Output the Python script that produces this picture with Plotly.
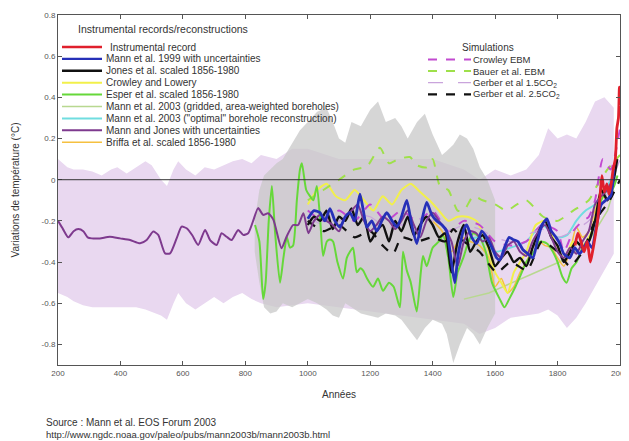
import plotly.graph_objects as go

# ---------------- data ----------------
x_ticks = [200, 400, 600, 800, 1000, 1200, 1400, 1600, 1800, 2000]
y_ticks = [-0.8, -0.6, -0.4, -0.2, 0, 0.2, 0.4, 0.6, 0.8]
y_tick_labels = ["-0.8", "-0.6", "-0.4", "-0.2", "0", "0.2", "0.4", "0.6", "0.8"]

# Mann and Jones uncertainty band (light purple)
mj_band_years = [200, 215, 230, 250, 280, 310, 340, 370, 390, 420, 450, 480, 500, 530, 549, 570, 585,
                 610, 640, 670, 700, 730, 760, 790, 820, 850, 900, 950, 1000, 1100, 1200, 1300, 1400,
                 1500, 1550, 1600, 1650, 1700, 1740, 1770, 1800, 1830, 1860, 1890, 1920, 1950, 1980]
mj_band_upper = [0.10, 0.08, 0.06, 0.05, 0.05, 0.04, 0.02, 0.05, 0.06, 0.03, 0.06, 0.09, 0.07, 0.00, -0.03, 0.05, 0.09,
                 0.05, 0.02, 0.06, 0.05, 0.07, 0.09, 0.10, 0.08, 0.12, 0.10, 0.15, 0.15, 0.10, 0.10, 0.10, 0.10,
                 0.05, 0.00, 0.05, 0.02, 0.05, 0.12, 0.25, 0.20, 0.22, 0.20, 0.28, 0.38, 0.40, 0.35]
mj_band_lower = [-0.55, -0.56, -0.57, -0.59, -0.61, -0.62, -0.62, -0.62, -0.62, -0.62, -0.62, -0.63, -0.64, -0.66, -0.68, -0.60, -0.55,
                 -0.60, -0.63, -0.60, -0.57, -0.60, -0.57, -0.55, -0.58, -0.60, -0.62, -0.61, -0.60, -0.62, -0.64, -0.66, -0.68,
                 -0.70, -0.75, -0.72, -0.67, -0.66, -0.65, -0.63, -0.66, -0.72, -0.67, -0.60, -0.52, -0.44, -0.36]

# Grey uncertainty band
grey_band_years = [830, 845, 860, 880, 900, 920, 950, 975, 1000, 1030, 1060, 1080, 1100, 1120, 1140, 1170,
                   1200, 1225, 1250, 1280, 1300, 1320, 1350, 1375, 1400, 1430, 1445, 1466, 1487, 1510, 1530,
                   1551, 1575, 1600]
grey_band_upper = [-0.20, -0.05, 0.02, 0.05, 0.08, 0.10, 0.18, 0.24, 0.28, 0.33, 0.35, 0.28, 0.20, 0.18, 0.28, 0.26,
                   0.34, 0.38, 0.28, 0.30, 0.26, 0.20, 0.28, 0.32, 0.22, 0.12, 0.14, 0.17, 0.22, 0.20, 0.15,
                   0.06, 0.00, -0.10]
grey_band_lower = [-0.35, -0.50, -0.62, -0.65, -0.64, -0.60, -0.62, -0.60, -0.58, -0.60, -0.63, -0.66, -0.67, -0.60, -0.62, -0.65,
                   -0.66, -0.67, -0.65, -0.66, -0.68, -0.72, -0.78, -0.72, -0.68, -0.70, -0.75, -0.89, -0.80, -0.72, -0.75,
                   -0.80, -0.72, -0.65]

# Instrumental record
instr_years = [1856, 1865, 1875, 1885, 1895, 1905, 1912, 1920, 1928, 1935, 1942, 1950, 1958, 1965, 1972, 1978, 1985, 1990, 1995, 1998, 2000]
instr_vals = [-0.32, -0.26, -0.30, -0.35, -0.30, -0.40, -0.35, -0.28, -0.20, -0.10, 0.02, -0.06, -0.02, -0.07, -0.02, 0.05, 0.10, 0.25, 0.30, 0.45, 0.36]

# Mann et al. 1999
mann99_years = [1000, 1020, 1039, 1055, 1071, 1087, 1103, 1120, 1135, 1150, 1167, 1178, 1189, 1205, 1221, 1237, 1253, 1270,
                1285, 1300, 1317, 1333, 1349, 1365, 1381, 1397, 1413, 1430, 1445, 1460, 1471, 1480, 1487, 1500, 1509, 1525,
                1541, 1557, 1573, 1590, 1605, 1615, 1630, 1645, 1657, 1673, 1689, 1705, 1721, 1735, 1750, 1766, 1780, 1795,
                1807, 1820, 1839, 1855, 1870, 1881, 1895, 1910, 1925, 1940, 1955, 1970, 1980]
mann99_vals = [-0.19, -0.15, -0.16, -0.20, -0.14, -0.20, -0.23, -0.18, -0.16, -0.20, -0.07, -0.15, -0.23, -0.20, -0.25, -0.20, -0.16, -0.20,
               -0.23, -0.18, -0.10, -0.22, -0.31, -0.20, -0.11, -0.17, -0.20, -0.22, -0.25, -0.40, -0.50, -0.38, -0.32, -0.24, -0.22, -0.28,
               -0.31, -0.25, -0.28, -0.33, -0.38, -0.39, -0.33, -0.28, -0.29, -0.30, -0.34, -0.36, -0.38, -0.30, -0.22, -0.19, -0.25, -0.28,
               -0.31, -0.36, -0.38, -0.33, -0.36, -0.34, -0.30, -0.33, -0.22, -0.12, -0.10, -0.08, 0.05]

# Jones et al. scaled 1856-1980
jones_years = [1000, 1020, 1040, 1060, 1080, 1100, 1120, 1140, 1160, 1180, 1200, 1220, 1240, 1260, 1280, 1300, 1320, 1340,
               1360, 1380, 1400, 1420, 1440, 1460, 1480, 1500, 1520, 1540, 1560, 1580, 1600, 1620, 1640, 1660, 1680, 1700,
               1720, 1740, 1760, 1780, 1800, 1820, 1840, 1860, 1880, 1900, 1920, 1940, 1960, 1980, 1991]
jones_vals = [-0.22, -0.18, -0.20, -0.15, -0.24, -0.18, -0.20, -0.14, -0.22, -0.18, -0.30, -0.25, -0.22, -0.30, -0.20, -0.25, -0.18, -0.27,
              -0.22, -0.18, -0.22, -0.28, -0.26, -0.45, -0.30, -0.22, -0.35, -0.30, -0.27, -0.33, -0.42, -0.38, -0.35, -0.40, -0.38, -0.42,
              -0.33, -0.25, -0.20, -0.28, -0.32, -0.40, -0.35, -0.30, -0.33, -0.30, -0.20, -0.05, -0.10, 0.00, 0.10]

# Crowley and Lowery
crowley_years = [1000, 1030, 1060, 1090, 1120, 1150, 1180, 1210, 1240, 1270, 1300, 1330, 1360, 1390, 1420, 1450, 1480, 1510,
                 1540, 1570, 1600, 1620, 1640, 1660, 1680, 1700, 1730, 1760, 1790, 1820, 1850, 1880, 1910, 1940, 1965, 1990]
crowley_vals = [-0.12, -0.05, -0.02, -0.08, -0.10, -0.05, -0.10, -0.15, -0.08, -0.12, -0.05, -0.02, -0.06, -0.10, -0.15, -0.20, -0.18, -0.18,
                -0.20, -0.30, -0.45, -0.50, -0.55, -0.45, -0.40, -0.35, -0.22, -0.20, -0.30, -0.38, -0.30, -0.32, -0.25, -0.05, -0.05, 0.10]

# Esper et al. scaled 1856-1980
esper_years = [831, 845, 857, 865, 875, 885, 895, 911, 922, 933, 943, 953, 965, 975, 981, 995, 1007, 1018, 1029, 1040, 1049,
               1061, 1071, 1081, 1095, 1113, 1125, 1135, 1145, 1157, 1168, 1177, 1190, 1209, 1225, 1241, 1260, 1275, 1295,
               1305, 1317, 1330, 1349, 1362, 1369, 1381, 1400, 1420, 1433, 1450, 1466, 1480, 1498, 1515, 1530, 1550, 1570,
               1590, 1615, 1630, 1645, 1665, 1680, 1700, 1720, 1745, 1766, 1785, 1800, 1815, 1829, 1845, 1861, 1880, 1900,
               1920, 1940, 1960, 1975, 1992]
esper_vals = [-0.22, -0.30, -0.58, -0.50, -0.20, -0.03, -0.25, -0.50, -0.38, -0.28, -0.33, -0.32, -0.10, 0.05, 0.08, -0.05, -0.08, -0.10, -0.03, -0.20, -0.37,
              -0.30, -0.29, -0.30, -0.40, -0.48, -0.38, -0.35, -0.33, -0.45, -0.43, -0.44, -0.48, -0.52, -0.48, -0.54, -0.50, -0.52, -0.62,
              -0.35, -0.44, -0.50, -0.64, -0.45, -0.37, -0.42, -0.33, -0.30, -0.27, -0.38, -0.57, -0.45, -0.38, -0.30, -0.26, -0.28, -0.35,
              -0.50, -0.58, -0.62, -0.58, -0.52, -0.47, -0.40, -0.36, -0.30, -0.31, -0.35, -0.40, -0.47, -0.50, -0.43, -0.40, -0.33, -0.30,
              -0.20, -0.10, -0.05, -0.05, 0.02]

# Mann et al. 2003 (gridded, area-weighted boreholes)
bore_grid_years = [1500, 1580, 1700, 1820, 1900, 1960, 1980]
bore_grid_vals = [-0.58, -0.55, -0.47, -0.39, -0.30, -0.15, -0.05]

# Mann et al. 2003 ("optimal" borehole reconstruction)
bore_opt_years = [1500, 1550, 1600, 1650, 1700, 1750, 1800, 1830, 1860, 1890, 1920, 1950, 1980]
bore_opt_vals = [-0.30, -0.28, -0.35, -0.33, -0.30, -0.22, -0.28, -0.27, -0.20, -0.15, -0.12, -0.05, 0.02]

# Mann and Jones
mj_years = [200, 216, 233, 250, 265, 281, 295, 308, 334, 366, 399, 431, 463, 484, 505, 521, 543, 559, 580, 596, 612, 630,
            649, 671, 687, 708, 724, 740, 756, 777, 793, 809, 825, 841, 857, 873, 890, 916, 932, 953, 969, 986, 1002,
            1020, 1040, 1060, 1080, 1100, 1120, 1140, 1160, 1180, 1200, 1220, 1240, 1260, 1280, 1300, 1320, 1340, 1360,
            1380, 1400, 1420, 1440, 1460, 1480, 1500, 1520, 1540, 1560, 1580, 1600, 1620, 1640, 1660, 1680, 1700, 1720,
            1740, 1760, 1780, 1800, 1820, 1840, 1860, 1880, 1900, 1920, 1940, 1960, 1980]
mj_vals = [-0.20, -0.24, -0.28, -0.25, -0.24, -0.25, -0.28, -0.285, -0.285, -0.277, -0.285, -0.293, -0.309, -0.293, -0.252, -0.268, -0.358, -0.358, -0.285, -0.228, -0.236, -0.27,
           -0.317, -0.244, -0.293, -0.317, -0.26, -0.277, -0.293, -0.244, -0.268, -0.26, -0.20, -0.138, -0.171, -0.163, -0.195, -0.333, -0.277, -0.22, -0.22, -0.163, -0.26,
           -0.20, -0.17, -0.20, -0.22, -0.25, -0.18, -0.15, -0.12, -0.20, -0.25, -0.22, -0.18, -0.20, -0.24, -0.20, -0.15, -0.22, -0.28,
           -0.20, -0.16, -0.20, -0.24, -0.30, -0.42, -0.30, -0.25, -0.26, -0.30, -0.28, -0.35, -0.38, -0.32, -0.30, -0.35, -0.37, -0.30,
           -0.25, -0.22, -0.28, -0.35, -0.38, -0.33, -0.36, -0.30, -0.25, -0.12, -0.08, -0.05, 0.02]

# Briffa et al. scaled 1856-1980
briffa_years = [1400, 1430, 1460, 1490, 1520, 1550, 1580, 1600, 1620, 1640, 1660, 1680, 1700, 1720, 1740, 1760, 1780, 1800,
                1820, 1840, 1860, 1880, 1900, 1920, 1940, 1960]
briffa_vals = [-0.20, -0.25, -0.35, -0.28, -0.30, -0.32, -0.38, -0.52, -0.48, -0.55, -0.52, -0.45, -0.40, -0.33, -0.30, -0.32, -0.33, -0.38,
               -0.42, -0.35, -0.23, -0.28, -0.25, -0.15, -0.08, -0.10]

# Simulations
crowley_ebm_years = [1000, 1050, 1100, 1150, 1200, 1250, 1300, 1350, 1400, 1450, 1500, 1550, 1600, 1650, 1700, 1750, 1800,
                     1820, 1850, 1880, 1900, 1920, 1945, 1970, 2000]
crowley_ebm_vals = [-0.15, -0.20, -0.15, -0.20, -0.12, -0.20, -0.15, -0.20, -0.15, -0.25, -0.20, -0.22, -0.30, -0.32, -0.30, -0.22, -0.25,
                    -0.35, -0.25, -0.20, -0.18, -0.10, 0.10, 0.05, 0.25]

bauer_years = [1000, 1050, 1100, 1150, 1190, 1231, 1260, 1290, 1327, 1350, 1381, 1400, 1423, 1450, 1480, 1500, 1530, 1560,
               1600, 1637, 1670, 1700, 1754, 1800, 1850, 1900, 1926, 1960, 2000]
bauer_vals = [-0.10, -0.05, 0.00, 0.05, 0.065, 0.155, 0.08, 0.10, 0.11, 0.07, 0.06, 0.10, -0.03, -0.05, -0.15, -0.15, -0.08, -0.10,
              -0.12, -0.15, -0.12, -0.10, -0.18, -0.20, -0.15, -0.10, -0.03, 0.05, 0.12]

gerber15_years = [1000, 1050, 1100, 1150, 1200, 1250, 1300, 1350, 1400, 1450, 1500, 1550, 1600, 1650, 1700, 1750, 1800, 1850,
                  1900, 1950, 2000]
gerber15_vals = [-0.18, -0.22, -0.20, -0.17, -0.18, -0.23, -0.22, -0.19, -0.20, -0.25, -0.22, -0.24, -0.28, -0.30, -0.27, -0.24, -0.28, -0.25,
                 -0.20, -0.10, 0.10]

gerber25_years = [1000, 1050, 1100, 1150, 1200, 1240, 1273, 1300, 1350, 1400, 1440, 1466, 1500, 1550, 1605, 1650, 1702, 1750,
                  1800, 1839, 1880, 1920, 1967, 2000]
gerber25_vals = [-0.20, -0.25, -0.22, -0.28, -0.25, -0.32, -0.36, -0.28, -0.30, -0.28, -0.30, -0.24, -0.30, -0.35, -0.45, -0.40, -0.44, -0.30,
                 -0.35, -0.42, -0.35, -0.20, -0.10, 0.00]

rec_labels = ["Instrumental record", "Mann et al. 1999 with uncertainties", "Jones et al. scaled 1856-1980",
              "Crowley and Lowery", "Esper et al. scaled 1856-1980",
              "Mann et al. 2003 (gridded, area-weighted boreholes)",
              "Mann et al. 2003 (\"optimal\" borehole reconstruction)",
              "Mann and Jones with uncertainties", "Briffa et al. scaled 1856-1980"]
sim_labels = ["Crowley EBM", "Bauer et al. EBM", "Gerber et al 1.5CO<sub>2</sub>", "Gerber et al. 2.5CO<sub>2</sub>"]

# ---------------- styles ----------------
FONT = "Liberation Sans, Arial, sans-serif"
rec_styles = [
    dict(color="#e0202c", width=2.8, dash="solid"),   # instrumental
    dict(color="#2630b8", width=2.8, dash="solid"),   # Mann 1999
    dict(color="#111111", width=2.4, dash="solid"),   # Jones
    dict(color="#f2f04a", width=2.0, dash="solid"),   # Crowley & Lowery
    dict(color="#66d83a", width=2.0, dash="solid"),   # Esper
    dict(color="#b8d890", width=1.5, dash="solid"),   # Mann 2003 gridded
    dict(color="#70dde0", width=2.0, dash="solid"),   # Mann 2003 optimal
    dict(color="#7e3a8e", width=2.0, dash="solid"),   # Mann and Jones
    dict(color="#f5c040", width=1.5, dash="solid"),   # Briffa
]
sim_styles = [
    dict(color="#c24ad0", width=2.0, dash="dash"),
    dict(color="#9ee04a", width=2.0, dash="dash"),
    dict(color="#c9a4dc", width=1.3, dash="longdash"),
    dict(color="#111111", width=2.2, dash="dash"),
]

rec_data = [(instr_years, instr_vals), (mann99_years, mann99_vals), (jones_years, jones_vals),
            (crowley_years, crowley_vals), (esper_years, esper_vals), (bore_grid_years, bore_grid_vals),
            (bore_opt_years, bore_opt_vals), (mj_years, mj_vals), (briffa_years, briffa_vals)]
sim_data = [(crowley_ebm_years, crowley_ebm_vals), (bauer_years, bauer_vals),
            (gerber15_years, gerber15_vals), (gerber25_years, gerber25_vals)]

fig = go.Figure()

# bands
fig.add_trace(go.Scatter(x=mj_band_years + mj_band_years[::-1], y=mj_band_upper + mj_band_lower[::-1],
                         fill="toself", fillcolor="#e9d8f0", line=dict(width=0), mode="lines",
                         hoverinfo="skip", showlegend=False))
fig.add_trace(go.Scatter(x=grey_band_years + grey_band_years[::-1], y=grey_band_upper + grey_band_lower[::-1],
                         fill="toself", fillcolor="rgba(200,200,200,0.75)", line=dict(width=0), mode="lines",
                         hoverinfo="skip", showlegend=False))

def add_line(xs, ys, st, name, shape="spline"):
    fig.add_trace(go.Scatter(x=xs, y=ys, mode="lines", name=name, showlegend=False,
                             line=dict(color=st["color"], width=st["width"], dash=st["dash"],
                                       shape=shape, smoothing=0.6)))

# draw order (back to front)
add_line(*rec_data[5], rec_styles[5], rec_labels[5], shape="linear")
add_line(*rec_data[6], rec_styles[6], rec_labels[6])
add_line(*rec_data[8], rec_styles[8], rec_labels[8])
add_line(*rec_data[3], rec_styles[3], rec_labels[3])
add_line(*sim_data[1], sim_styles[1], sim_labels[1])
add_line(*sim_data[0], sim_styles[0], sim_labels[0])
add_line(*sim_data[2], sim_styles[2], sim_labels[2])
add_line(*rec_data[4], rec_styles[4], rec_labels[4])
add_line(*sim_data[3], sim_styles[3], sim_labels[3])
add_line(*rec_data[2], rec_styles[2], rec_labels[2])
add_line(*rec_data[7], rec_styles[7], rec_labels[7])
add_line(*rec_data[1], rec_styles[1], rec_labels[1])
add_line(*rec_data[0], rec_styles[0], rec_labels[0])

# zero reference line drawn above the bands
fig.add_hline(y=0, line=dict(color="#333", width=1), layer="above")

# ---------------- manual legends (paper coordinates) ----------------
# page is shown with an 8px body margin, so the figure is made 8px smaller
PAGE_OFF = 8
W_PLOT, H_PLOT, L, T = 562.0, 350.0, 58.0, 15.0   # plot box in window pixels
def px(xp):
    return (xp - L) / W_PLOT
def py(yp):
    return 1 - (yp - T) / H_PLOT

annots = []
annots.append(dict(x=px(76), y=py(29), xref="paper", yref="paper", xanchor="left", yanchor="middle",
                   text="Instrumental records/reconstructions", showarrow=False,
                   font=dict(family=FONT, size=10.5, color="#333")))
for i, (lab, st) in enumerate(zip(rec_labels, rec_styles)):
    yy = py(47 + 11.9 * i)
    fig.add_shape(type="line", xref="paper", yref="paper", x0=px(62), x1=px(102), y0=yy, y1=yy,
                  line=dict(color=st["color"], width=min(st["width"], 2.4), dash=st["dash"]))
    annots.append(dict(x=px(108 if i == 0 else 104), y=yy, xref="paper", yref="paper", xanchor="left",
                       yanchor="middle", text=lab, showarrow=False,
                       font=dict(family=FONT, size=10, color="#333")))

annots.append(dict(x=px(460), y=py(47), xref="paper", yref="paper", xanchor="left", yanchor="middle",
                   text="Simulations", showarrow=False, font=dict(family=FONT, size=10, color="#333")))
for i, (lab, st) in enumerate(zip(sim_labels, sim_styles)):
    yy = py(59.5 + 11.6 * i)
    fig.add_shape(type="line", xref="paper", yref="paper", x0=px(428), x1=px(471), y0=yy, y1=yy,
                  line=dict(color=st["color"], width=st["width"], dash=st["dash"]))
    annots.append(dict(x=px(471), y=yy, xref="paper", yref="paper", xanchor="left", yanchor="middle",
                       text=lab, showarrow=False, font=dict(family=FONT, size=9.5, color="#333")))

# source text
annots.append(dict(x=px(44), y=py(422), xref="paper", yref="paper", xanchor="left", yanchor="middle",
                   text="Source : Mann et al. EOS Forum 2003", showarrow=False,
                   font=dict(family=FONT, size=10, color="#333")))
annots.append(dict(x=px(44), y=py(434), xref="paper", yref="paper", xanchor="left", yanchor="middle",
                   text="http://www.ngdc.noaa.gov/paleo/pubs/mann2003b/mann2003b.html", showarrow=False,
                   font=dict(family=FONT, size=9.5, color="#333")))

fig.update_layout(
    width=629 - PAGE_OFF, height=441 - PAGE_OFF,
    margin=dict(l=L - PAGE_OFF, r=9, t=T - PAGE_OFF, b=441 - PAGE_OFF - (T - PAGE_OFF) - H_PLOT, autoexpand=False),
    paper_bgcolor="white", plot_bgcolor="white",
    font=dict(family=FONT, size=9, color="#555"),
    showlegend=False,
    annotations=annots,
    xaxis=dict(range=[200, 2000], tickvals=x_ticks, ticktext=[str(v) for v in x_ticks],
               ticks="inside", ticklen=4, tickcolor="#555", showline=True, linecolor="#555",
               linewidth=1, mirror="ticks", showgrid=False, zeroline=False, automargin=False,
               ticklabeloverflow="allow",
               tickfont=dict(size=8, color="#555"),
               title=dict(text="Années", font=dict(size=10, color="#333"), standoff=14)),
    yaxis=dict(range=[-0.9, 0.8], tickvals=y_ticks, ticktext=y_tick_labels,
               ticks="inside", ticklen=4, tickcolor="#555", showline=True, linecolor="#555",
               linewidth=1, mirror="ticks", showgrid=False, zeroline=False, automargin=False,
               ticklabeloverflow="allow",
               tickfont=dict(size=8, color="#555"),
               title=dict(text="Variations de température (°C)", font=dict(size=10, color="#333"), standoff=20)),
)

fig.write_html("out.html")
